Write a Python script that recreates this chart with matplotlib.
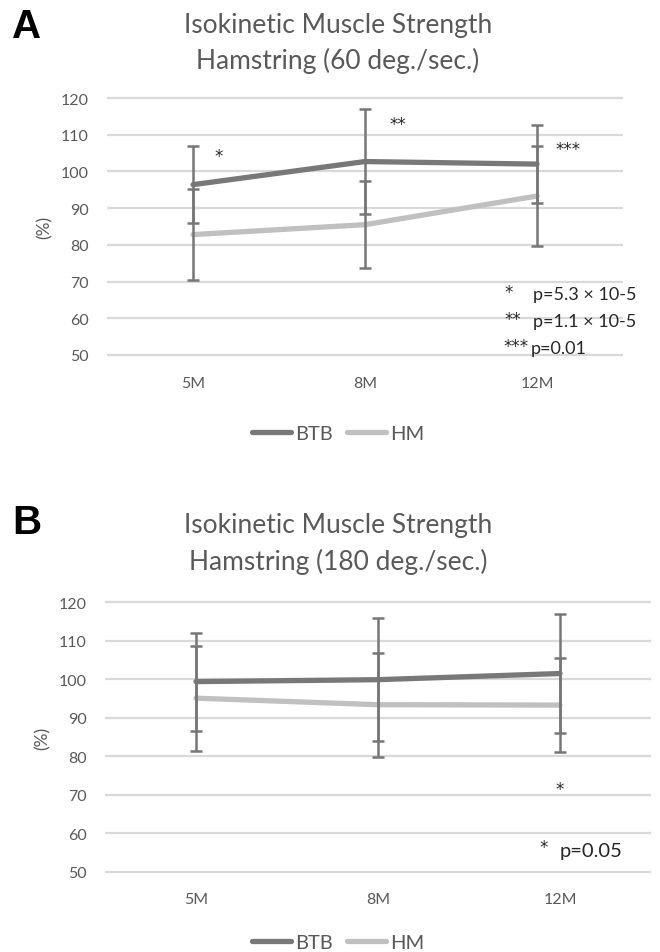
import matplotlib
matplotlib.use('Agg')
import matplotlib.pyplot as plt

# data (values in %)
months = ['5M', '8M', '12M']

a_btb = [96.4, 102.7, 102.0]
a_btb_err = [10.4, 14.2, 10.7]
a_hm = [82.8, 85.5, 93.3]
a_hm_err = [12.4, 11.8, 13.5]

b_btb = [99.4, 99.9, 101.5]
b_btb_err = [12.7, 15.9, 15.4]
b_hm = [95.1, 93.4, 93.3]
b_hm_err = [13.6, 13.5, 12.2]

yticks = [50, 60, 70, 80, 90, 100, 110, 120]

BTB_COLOR = '#787878'
HM_COLOR = '#c0c0c0'
ERR_COLOR = '#767676'
GRID_COLOR = '#d9d9d9'
LABEL_COLOR = '#595959'
NOTE_COLOR = '#262626'
FONT = 'Lato'
STAR_FONT = 'DejaVu Sans'

W, H = 660, 953
fig = plt.figure(figsize=(W / 100, H / 100), dpi=100)


def px_axes(left, right, top, bottom):
    return fig.add_axes([left / W, 1 - bottom / H, (right - left) / W, (bottom - top) / H])


def draw_panel(ax, btb, btb_err, hm, hm_err, xpad):
    x = list(range(len(months)))
    ax.set_xlim(-0.5, 2.5)
    ax.set_ylim(48, 122)
    for y in yticks:
        ax.axhline(y, color=GRID_COLOR, lw=1.6, zorder=0)
    ax.plot(x, btb, color=BTB_COLOR, lw=3.8, solid_capstyle='round', zorder=3, label='BTB')
    ax.plot(x, hm, color=HM_COLOR, lw=3.8, solid_capstyle='round', zorder=3, label='HM')
    ax.errorbar(x, btb, yerr=btb_err, fmt='none', ecolor=ERR_COLOR, elinewidth=1.8,
                capsize=4, capthick=1.8, zorder=4)
    ax.errorbar(x, hm, yerr=hm_err, fmt='none', ecolor=ERR_COLOR, elinewidth=1.8,
                capsize=4, capthick=1.8, zorder=4)
    ax.set_xticks(x)
    ax.set_xticklabels(months)
    ax.set_yticks(yticks)
    ax.tick_params(length=0, labelsize=11.5, labelcolor=LABEL_COLOR)
    ax.tick_params(axis='y', pad=13)
    ax.tick_params(axis='x', pad=xpad)
    for lab in ax.get_xticklabels() + ax.get_yticklabels():
        lab.set_fontfamily(FONT)
    for s in ax.spines.values():
        s.set_visible(False)
    ax.set_ylabel('(%)', fontsize=12.5, color=LABEL_COLOR, fontfamily=FONT, labelpad=6)


def legend(ax, y_px):
    ax.legend(loc='center', bbox_to_anchor=(338 / W, 1 - y_px / H), bbox_transform=fig.transFigure,
              ncol=2, frameon=False, handlelength=1.95, columnspacing=0.7, handletextpad=0.2,
              prop={'family': FONT, 'size': 14.5}, labelcolor=LABEL_COLOR)


def title(lines, y1, y2):
    for s, y in zip(lines, (y1, y2)):
        fig.text(338 / W, 1 - y / H, s, ha='center', va='center', fontsize=19,
                 color=LABEL_COLOR, fontfamily=FONT)


def note(x_px, y_px, s, size=13, family=FONT):
    fig.text(x_px / W, 1 - y_px / H, s, ha='left', va='center', fontsize=size,
             color=NOTE_COLOR, fontfamily=family)


def star(x_px, y_px, s, size=12):
    note(x_px, y_px, s, size=size, family=STAR_FONT)


# panel A
ax_a = px_axes(107, 623, 91.7, 363.3)
draw_panel(ax_a, a_btb, a_btb_err, a_hm, a_hm_err, xpad=10)
legend(ax_a, 434)
title(['Isokinetic Muscle Strength', 'Hamstring (60 deg./sec.)'], 25, 61)
fig.text(12 / W, 1 - 27 / H, 'A', fontsize=29, fontweight='bold', va='center',
         fontfamily='Liberation Sans')
star(214, 157, '*')
star(389, 125, '**')
star(555, 150, '***')
star(504, 293, '*')
note(533, 295, 'p=5.3 × 10-5')
star(504, 320, '**')
note(533, 322, 'p=1.1 × 10-5')
star(503, 347, '***')
note(531, 349, 'p=0.01')

# panel B
ax_b = px_axes(105, 651, 595.6, 880.5)
draw_panel(ax_b, b_btb, b_btb_err, b_hm, b_hm_err, xpad=9)
legend(ax_b, 943)
title(['Isokinetic Muscle Strength', 'Hamstring (180 deg./sec.)'], 525, 562)
fig.text(12 / W, 1 - 523 / H, 'B', fontsize=29, fontweight='bold', va='center',
         fontfamily='Liberation Sans')
star(555, 790, '*')
star(539, 848, '*')
note(560, 852, 'p=0.05', size=14.5)

fig.savefig('out.png', dpi=100)
